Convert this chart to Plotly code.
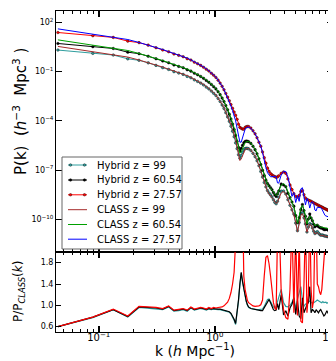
import numpy as np
import plotly.graph_objects as go

# k grid of the hybrid run (h/Mpc)
k = [0.0445, 0.089, 0.1335, 0.178, 0.2225, 0.267, 0.3115, 0.356, 0.4005, 0.445,
     0.4895, 0.534, 0.5785, 0.623, 0.6675, 0.712, 0.7565, 0.801, 0.8455, 0.89,
     0.9345, 0.979, 1.0235, 1.068, 1.1125, 1.157, 1.2015, 1.246, 1.2905, 1.335,
     1.3795, 1.424, 1.4685, 1.513, 1.5575, 1.602, 1.6465, 1.691, 1.7355, 1.78,
     1.8245, 1.869, 1.9135, 1.958, 2.047, 2.136, 2.225, 2.314, 2.403, 2.492,
     2.581, 2.67, 2.759, 2.848, 2.937, 3.026, 3.115, 3.204, 3.293, 3.382,
     3.471, 3.56, 3.738, 3.916, 4.094, 4.272, 4.45, 4.628, 4.806, 4.984,
     5.162, 5.34, 5.518, 5.696, 5.874, 6.052, 6.23, 6.408, 6.586, 6.764,
     6.942, 7.12, 7.298, 7.476, 7.654, 7.832, 8.01, 8.188, 8.366, 8.544,
     8.722, 8.9, 9.078, 9.256, 9.434, 9.612, 9.79, 9.968, 10.146, 10.324,
     10.502]

# log10 P_CLASS(k)
log_p_class_99 = [0.54, 0.23, 0.05, -0.11, -0.29, -0.44, -0.59, -0.72, -0.85, -0.95,
                  -1.04, -1.13, -1.24, -1.35, -1.46, -1.56, -1.67, -1.78, -1.90, -2.02,
                  -2.15, -2.29, -2.42, -2.60, -2.78, -2.99, -3.21, -3.46, -3.71, -3.97,
                  -4.25, -4.53, -4.83, -5.15, -5.62, -6.10, -6.42, -6.32, -6.08, -5.88,
                  -5.76, -5.70, -5.68, -5.69, -5.78, -5.95, -6.15, -6.40, -6.70, -7.05,
                  -7.40, -7.75, -8.05, -8.30, -8.45, -8.55, -8.65, -8.80, -8.95, -9.05,
                  -8.95, -8.72, -8.40, -8.30, -8.45, -8.80, -9.15, -9.45, -9.75, -10.20,
                  -10.75, -10.30, -9.78, -9.65, -9.90, -10.30, -10.80, -10.50, -10.30, -10.35,
                  -10.55, -10.75, -10.90, -10.85, -10.80, -10.88, -10.95, -11.00, -10.98, -11.00,
                  -11.03, -11.05, -11.05, -11.07, -11.08, -11.10, -11.11, -11.12, -11.13, -11.14,
                  -11.15]
log_p_class_60 = [0.94, 0.63, 0.45, 0.29, 0.11, -0.04, -0.19, -0.32, -0.45, -0.55,
                  -0.64, -0.73, -0.84, -0.95, -1.06, -1.16, -1.27, -1.38, -1.50, -1.62,
                  -1.75, -1.89, -2.02, -2.19, -2.37, -2.57, -2.79, -3.03, -3.28, -3.54,
                  -3.82, -4.10, -4.40, -4.72, -5.19, -5.67, -5.98, -5.89, -5.65, -5.45,
                  -5.33, -5.27, -5.25, -5.26, -5.35, -5.52, -5.72, -5.97, -6.27, -6.62,
                  -6.97, -7.32, -7.62, -7.86, -8.00, -8.10, -8.19, -8.33, -8.47, -8.57,
                  -8.47, -8.25, -7.93, -7.83, -7.97, -8.32, -8.66, -8.96, -9.26, -9.70,
                  -10.25, -9.81, -9.29, -9.16, -9.41, -9.80, -10.30, -10.01, -9.81, -9.86,
                  -10.06, -10.26, -10.40, -10.36, -10.31, -10.39, -10.45, -10.50, -10.48, -10.50,
                  -10.53, -10.55, -10.55, -10.57, -10.58, -10.60, -10.61, -10.62, -10.63, -10.64,
                  -10.65]
log_p_class_27 = [1.61, 1.30, 1.12, 0.96, 0.78, 0.63, 0.48, 0.35, 0.22, 0.12,
                  0.03, -0.06, -0.17, -0.28, -0.39, -0.49, -0.60, -0.71, -0.82, -0.94,
                  -1.07, -1.20, -1.33, -1.50, -1.68, -1.88, -2.10, -2.34, -2.58, -2.83,
                  -3.10, -3.38, -3.67, -4.00, -4.45, -4.95, -5.30, -5.30, -4.98, -4.70,
                  -4.52, -4.42, -4.38, -4.37, -4.45, -4.60, -4.78, -5.02, -5.30, -5.55,
                  -5.94, -6.44, -6.86, -7.17, -7.33, -7.41, -7.41, -7.38, -7.38, -7.41,
                  -7.78, -7.80, -7.30, -7.08, -7.09, -7.42, -8.03, -8.61, -8.38, -8.98,
                  -8.56, -8.91, -8.15, -8.08, -8.65, -9.12, -8.73, -8.91, -9.32, -9.02,
                  -8.93, -9.04, -9.44, -9.49, -9.27, -9.28, -9.29, -9.30, -9.37, -9.49,
                  -9.67, -9.76, -9.80, -9.83, -9.85, -9.86, -9.89, -9.90, -9.85, -9.86,
                  -9.96]

# P_hybrid / P_CLASS
ratio_99 = [0.60, 0.77, 0.92, 0.78, 0.96, 0.95, 0.94, 0.92, 0.97, 0.89,
            0.90, 0.92, 0.89, 0.95, 0.91, 0.92, 0.94, 0.93, 0.91, 0.93,
            0.92, 0.93, 0.92, 0.92, 0.92, 0.91, 0.91, 0.90, 0.89, 0.87,
            0.84, 0.79, 0.72, 0.64, 0.83, 1.08, 1.38, 1.60, 1.44, 1.29,
            1.17, 1.07, 1.00, 0.96, 0.94, 0.93, 0.92, 0.92, 0.92, 0.92,
            0.93, 0.98, 1.05, 1.11, 1.12, 1.08, 1.02, 0.97, 0.95, 0.98,
            1.10, 1.15, 1.30, 1.05, 0.98, 0.97, 1.00, 1.05, 1.15, 0.92,
            1.12, 1.25, 1.35, 1.10, 0.98, 1.02, 1.05, 1.06, 1.08, 1.05,
            1.04, 1.05, 1.06, 1.08, 1.10, 1.08, 1.07, 1.06, 1.05, 1.07,
            1.05, 1.05, 1.06, 1.04, 1.05, 1.04, 1.04, 1.03, 1.04, 1.03,
            1.03]
ratio_60 = [0.60, 0.78, 0.92, 0.79, 0.97, 0.96, 0.95, 0.93, 0.98, 0.90,
            0.91, 0.93, 0.90, 0.96, 0.92, 0.93, 0.95, 0.94, 0.92, 0.94,
            0.93, 0.94, 0.93, 0.93, 0.93, 0.92, 0.92, 0.91, 0.90, 0.88,
            0.85, 0.80, 0.74, 0.66, 0.85, 1.10, 1.40, 1.62, 1.45, 1.30,
            1.18, 1.08, 1.01, 0.97, 0.94, 0.93, 0.92, 0.91, 0.91, 0.90,
            0.90, 0.96, 1.01, 1.08, 1.11, 1.05, 0.98, 0.92, 0.90, 0.91,
            1.03, 0.92, 1.20, 0.82, 0.90, 0.80, 0.95, 1.02, 1.14, 0.83,
            1.08, 0.80, 0.75, 1.14, 0.86, 0.95, 1.01, 1.05, 1.35, 0.86,
            0.92, 0.90, 0.86, 0.92, 0.88, 0.86, 0.90, 0.92, 0.88, 0.84,
            0.80, 0.82, 0.86, 0.90, 0.86, 0.82, 0.80, 0.83, 0.80, 0.78,
            0.80]
ratio_27 = [0.60, 0.78, 0.93, 0.80, 0.98, 0.97, 0.96, 0.94, 0.99, 0.91,
            0.92, 0.94, 0.91, 0.97, 0.93, 0.94, 0.96, 0.95, 0.93, 0.96,
            0.94, 0.96, 0.95, 0.96, 0.96, 0.97, 0.99, 1.02, 1.06, 1.13,
            1.24, 1.40, 1.62, 2.20, 3.50, 5.50, 8.00, 7.00, 3.00, 1.55,
            1.30, 1.16, 1.09, 1.05, 1.02, 0.99, 0.98, 0.98, 0.99, 1.01,
            1.10, 1.55, 1.90, 1.93, 1.78, 1.55, 1.30, 1.05, 0.95, 0.92,
            2.30, 2.80, 1.26, 0.92, 0.77, 0.74, 1.30, 2.60, 0.86, 2.40,
            0.81, 2.30, 0.70, 0.67, 1.40, 2.60, 0.86, 1.20, 2.80, 1.30,
            0.95, 1.10, 2.50, 2.60, 1.40, 1.35, 1.25, 1.20, 1.30, 1.60,
            2.20, 2.50, 2.60, 2.60, 2.50, 2.40, 2.40, 2.30, 1.90, 1.80,
            2.20]

redshifts = ["99", "60.54", "27.57"]
hybrid_colors = ["#2f9e9e", "black", "red"]
class_colors = ["#a52a2a", "#00a000", "blue"]

p_class = [10 ** np.array(v) for v in (log_p_class_99, log_p_class_60, log_p_class_27)]
ratios = [np.array(v) for v in (ratio_99, ratio_60, ratio_27)]
p_hybrid = [p * r for p, r in zip(p_class, ratios)]

FONT = "DejaVu Sans"

fig = go.Figure()

for z, p, col in zip(redshifts, p_hybrid, hybrid_colors):
    fig.add_trace(go.Scatter(x=k, y=p, mode="lines+markers", name="Hybrid z = " + z,
                             line=dict(color=col, width=1),
                             marker=dict(size=2.6, color=col, line=dict(color="black", width=0.4)),
                             xaxis="x", yaxis="y"))
for z, p, col in zip(redshifts, p_class, class_colors):
    fig.add_trace(go.Scatter(x=k, y=p, mode="lines", name="CLASS z = " + z,
                             line=dict(color=col, width=1), xaxis="x", yaxis="y"))
for r, col in zip(ratios, hybrid_colors):
    fig.add_trace(go.Scatter(x=k, y=r, mode="lines", line=dict(color=col, width=1.2),
                             showlegend=False, xaxis="x2", yaxis="y2"))

# pixel -> paper helpers (plot area is 48..325 x 3..324 px)
def px_x(px):
    return (px - 48) / 277.0

def px_y(py):
    return (324 - py) / 321.0

# legend drawn by hand to get matplotlib-like spacing
shapes = [dict(type="rect", xref="paper", yref="paper", x0=px_x(54), x1=px_x(174),
               y0=px_y(241), y1=px_y(149), line=dict(color="#666", width=1), fillcolor="white",
               layer="above")]
annotations = []
leg_names = ["Hybrid z = " + z for z in redshifts] + ["CLASS z = " + z for z in redshifts]
leg_cols = hybrid_colors + class_colors
leg_y = [157, 172, 186.8, 201.7, 216.5, 231.2]
for i, (name, col, yy) in enumerate(zip(leg_names, leg_cols, leg_y)):
    shapes.append(dict(type="line", xref="paper", yref="paper", x0=px_x(60), x1=px_x(79),
                       y0=px_y(yy), y1=px_y(yy), line=dict(color=col, width=1), layer="above"))
    if i < 3:
        for cx in (62.5, 76.5):
            shapes.append(dict(type="circle", xref="paper", yref="paper",
                               x0=px_x(cx - 1.3), x1=px_x(cx + 1.3),
                               y0=px_y(yy + 1.3), y1=px_y(yy - 1.3),
                               fillcolor=col, line=dict(color="black", width=0.4), layer="above"))
    annotations.append(dict(text=name, xref="paper", yref="paper", x=px_x(87), y=px_y(yy),
                            xanchor="left", yanchor="middle", showarrow=False,
                            font=dict(family=FONT, size=10, color="black")))

annotations.append(dict(text="k (<i>h</i> Mpc<sup>−1</sup>)", xref="paper", yref="paper",
                        x=0.5, y=px_y(342), xanchor="center", yanchor="middle", showarrow=False,
                        font=dict(family=FONT, size=14, color="black")))
annotations.append(dict(text="P(k)  (<i>h</i><sup>−3</sup>  Mpc<sup>3</sup> )", xref="paper", yref="paper",
                        x=px_x(12), y=px_y(104), xanchor="center", yanchor="middle", showarrow=False,
                        textangle=-90, font=dict(family=FONT, size=15, color="black")))
annotations.append(dict(text="P/P<sub><i>CLASS</i></sub>(<i>k</i>)", xref="paper", yref="paper",
                        x=px_x(11), y=px_y(284), xanchor="center", yanchor="middle", showarrow=False,
                        textangle=-90, font=dict(family=FONT, size=12, color="black")))

minor_k = [0.05, 0.06, 0.07, 0.08, 0.09, 0.2, 0.3, 0.4, 0.5, 0.6, 0.7, 0.8, 0.9,
           2, 3, 4, 5, 6, 7, 8, 9]
xaxis_common = dict(type="log", range=[-1.368, 1.019], tickvals=[0.1, 1, 10],
                    ticks="inside", ticklen=6, tickwidth=1.5, tickcolor="black",
                    showline=True, linecolor="black", linewidth=1, mirror="allticks",
                    showgrid=False, zeroline=False,
                    minor=dict(tickvals=minor_k, ticks="inside", ticklen=3, tickwidth=0.8,
                               tickcolor="black", showgrid=False))

fig.update_layout(
    width=336, height=361,
    margin=dict(l=48, r=11, t=3, b=37),
    paper_bgcolor="white", plot_bgcolor="white",
    showlegend=False,
    font=dict(family=FONT, color="black"),
    xaxis=dict(xaxis_common, anchor="y", showticklabels=False),
    xaxis2=dict(xaxis_common, anchor="y2", matches="x",
                ticktext=["10<sup>−1</sup>", "10<sup>0</sup>", "10<sup>1</sup>"],
                tickfont=dict(family=FONT, size=10), ticklabelstandoff=-4),
    yaxis=dict(type="log", domain=[0.2492, 1], range=[-12, 2.7],
               tickvals=[1e-10, 1e-7, 1e-4, 1e-1, 1e2],
               ticktext=["10<sup>−10</sup>", "10<sup>−7</sup>", "10<sup>−4</sup>",
                         "10<sup>−1</sup>", "10<sup>2</sup>"],
               tickfont=dict(family=FONT, size=8),
               ticks="inside", ticklen=6, tickwidth=1, tickcolor="black",
               showline=True, linecolor="black", linewidth=1, mirror="allticks",
               showgrid=False, zeroline=False),
    yaxis2=dict(domain=[0, 0.2492], range=[0.5, 2.0],
                tickvals=[0.6, 1.0, 1.4, 1.8], ticktext=["0.6", "1.0", "1.4", "1.8"],
                tickfont=dict(family=FONT, size=8),
                ticks="inside", ticklen=5, tickwidth=1, tickcolor="black",
                showline=True, linecolor="black", linewidth=1, mirror="allticks",
                showgrid=False, zeroline=False),
    shapes=shapes,
    annotations=annotations,
)

fig.write_html("out.html")
